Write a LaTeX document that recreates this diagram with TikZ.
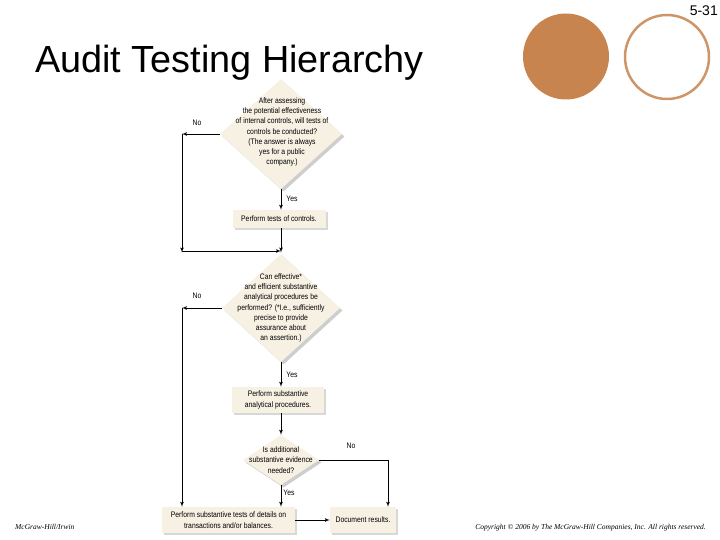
\documentclass[tikz,border=0pt]{standalone}
\usepackage{fontspec}
\setmainfont{Liberation Sans}
\newfontfamily\chartfont{Liberation Sans}[FakeStretch=0.85]
\newfontfamily\footfont{Liberation Serif}
\usepackage{tikz}
\usepackage{xcolor}
\usetikzlibrary{shapes.geometric, arrows, positioning, shadows}

\definecolor{chartcream}{RGB}{247,241,228}
\definecolor{dotbrown}{RGB}{200,132,78}
\definecolor{ringbrown}{RGB}{206,150,104}

\tikzset{
  decision/.style={diamond, fill=chartcream, inner sep=0pt,
    drop shadow={shadow xshift=2.5pt, shadow yshift=-2.5pt, fill=gray!70, opacity=.55}},
  process/.style={rectangle, fill=chartcream, inner sep=0pt, align=center,
    font=\chartfont\fontsize{8}{10.3}\selectfont,
    drop shadow={shadow xshift=2pt, shadow yshift=-2pt, fill=gray!60, opacity=.5}},
  qtext/.style={align=center, inner sep=0pt, font=\chartfont\fontsize{8}{10.3}\selectfont},
  answer/.style={inner sep=0pt, font=\chartfont\fontsize{8}{9}\selectfont},
  flow/.style={draw, line width=.75pt, -latex'}
}

\begin{document}
\begin{tikzpicture}[x=1pt, y=-1pt]
\useasboundingbox (0,0) rectangle (720,540);

% heading and corner marks
\node[anchor=base west, inner sep=0pt, font=\fontsize{37.8}{44}\selectfont] (title) at (35,73) {Audit Testing Hierarchy};
\node[anchor=base east, inner sep=0pt, font=\fontsize{14}{16}\selectfont] (slideno) at (718,16) {5-31};
\fill[dotbrown] (566,56.5) circle (43pt);
\draw[ringbrown, line width=2.5pt] (667,57) circle (42pt);

% decisions
\node[decision, minimum width=122pt, minimum height=110pt] (dA) at (281,134) {};
\node[qtext] (qA) at (282,132) {After assessing\\the potential effectiveness\\of internal controls, will tests of\\controls be conducted?\\(The answer is always\\yes for a public\\company.)};
\node[decision, minimum width=118pt, minimum height=108pt] (dB) at (281,308) {};
\node[qtext] (qB) at (281,308) {Can effective*\\and efficient substantive\\analytical procedures be\\performed? (*I.e., sufficiently\\precise to provide\\assurance about\\an assertion.)};
\node[decision, minimum width=76pt, minimum height=50pt] (dC) at (281,460) {};
\node[qtext] (qC) at (281,460) {Is additional\\substantive evidence\\needed?};

% steps
\node[process, minimum width=93pt, minimum height=18pt] (ctrl) at (279,219) {Perform tests of controls.};
\node[process, minimum width=92pt, minimum height=26pt] (anal) at (278,400) {Perform substantive\\analytical procedures.};
\node[process, minimum width=133pt, minimum height=26pt] (detail) at (228.5,520) {Perform substantive tests of details on\\transactions and/or balances.};
\node[process, minimum width=66pt, minimum height=26pt] (docs) at (363,520) {Document results.};

% turning points
\coordinate (spine) at (281,0);
\coordinate (cornA) at (182,134);
\coordinate (mergeA) at (182,251);
\coordinate (joinA) at (281,251);
\coordinate (cornB) at (182,308);
\coordinate (cornC) at (388,460);

% connectors
\draw[flow] (dA.west) -- (cornA);
\draw[flow] (cornA) -- ([yshift=-1.5pt]mergeA);
\draw[flow] (mergeA) -- (joinA);
\draw[flow] (dA.south) -- (spine |- ctrl.north);
\draw[flow] (spine |- ctrl.south) -- ([yshift=-1.5pt]joinA);
\draw[flow] (dB.west) -- (cornB);
\draw[flow] (cornB) -- (cornB |- detail.north);
\draw[flow] (dB.south) -- (spine |- anal.north);
\draw[flow] (spine |- anal.south) -- (dC.north);
\draw[flow] (dC.south) -- (dC.south |- detail.north);
\draw[line width=.75pt] (dC.east) -- (cornC);
\draw[flow] (cornC) -- (cornC |- docs.north);
\draw[flow] (detail.east) -- (docs.west);

% answers
\node[answer] (noA) at (197,123) {No};
\node[answer] (yesA) at (292,199) {Yes};
\node[answer] (noB) at (197,296) {No};
\node[answer] (yesB) at (292,375) {Yes};
\node[answer] (noC) at (351,446) {No};
\node[answer] (yesC) at (289,493) {Yes};

% footer
\node[anchor=west, inner sep=0pt, font=\footfont\itshape\fontsize{7.5}{9}\selectfont] (pub) at (15,527) {McGraw-Hill/Irwin};
\node[anchor=east, inner sep=0pt, font=\footfont\itshape\fontsize{7.5}{9}\selectfont] (rights) at (706,528) {Copyright © 2006 by The McGraw-Hill Companies, Inc. All rights reserved.};
\end{tikzpicture}
\end{document}
